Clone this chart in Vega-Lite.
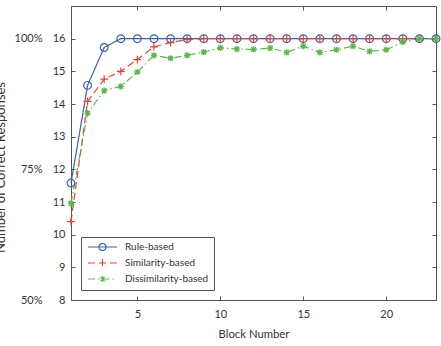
{
  "$schema": "https://vega.github.io/schema/vega-lite/v6.json",
  "width": 365,
  "height": 294,
  "autosize": {"type": "none"},
  "padding": {"left": 71, "top": 6, "right": 5, "bottom": 46},
  "config": {
    "font": "Lato",
    "view": {"stroke": null},
    "axis": {
      "grid": false,
      "domainColor": "#555555",
      "domainWidth": 1,
      "tickColor": "#555555",
      "tickSize": -4,
      "labelColor": "#333333",
      "labelFont": "Lato",
      "labelFontSize": 11,
      "titleFont": "Lato",
      "titleFontSize": 11.3,
      "titleFontWeight": "normal",
      "titleColor": "#333333"
    }
  },
  "data": {
    "values": [
      {"block": 1, "model": "Rule-based", "correct": 11.58},
      {"block": 2, "model": "Rule-based", "correct": 14.57},
      {"block": 3, "model": "Rule-based", "correct": 15.73},
      {"block": 4, "model": "Rule-based", "correct": 16},
      {"block": 5, "model": "Rule-based", "correct": 16},
      {"block": 6, "model": "Rule-based", "correct": 16},
      {"block": 7, "model": "Rule-based", "correct": 16},
      {"block": 8, "model": "Rule-based", "correct": 16},
      {"block": 9, "model": "Rule-based", "correct": 16},
      {"block": 10, "model": "Rule-based", "correct": 16},
      {"block": 11, "model": "Rule-based", "correct": 16},
      {"block": 12, "model": "Rule-based", "correct": 16},
      {"block": 13, "model": "Rule-based", "correct": 16},
      {"block": 14, "model": "Rule-based", "correct": 16},
      {"block": 15, "model": "Rule-based", "correct": 16},
      {"block": 16, "model": "Rule-based", "correct": 16},
      {"block": 17, "model": "Rule-based", "correct": 16},
      {"block": 18, "model": "Rule-based", "correct": 16},
      {"block": 19, "model": "Rule-based", "correct": 16},
      {"block": 20, "model": "Rule-based", "correct": 16},
      {"block": 21, "model": "Rule-based", "correct": 16},
      {"block": 22, "model": "Rule-based", "correct": 16},
      {"block": 23, "model": "Rule-based", "correct": 16},
      {"block": 1, "model": "Similarity-based", "correct": 10.4},
      {"block": 2, "model": "Similarity-based", "correct": 14.08},
      {"block": 3, "model": "Similarity-based", "correct": 14.76},
      {"block": 4, "model": "Similarity-based", "correct": 15.0},
      {"block": 5, "model": "Similarity-based", "correct": 15.36},
      {"block": 6, "model": "Similarity-based", "correct": 15.75},
      {"block": 7, "model": "Similarity-based", "correct": 15.88},
      {"block": 8, "model": "Similarity-based", "correct": 15.97},
      {"block": 9, "model": "Similarity-based", "correct": 16},
      {"block": 10, "model": "Similarity-based", "correct": 16},
      {"block": 11, "model": "Similarity-based", "correct": 16},
      {"block": 12, "model": "Similarity-based", "correct": 16},
      {"block": 13, "model": "Similarity-based", "correct": 16},
      {"block": 14, "model": "Similarity-based", "correct": 16},
      {"block": 15, "model": "Similarity-based", "correct": 16},
      {"block": 16, "model": "Similarity-based", "correct": 16},
      {"block": 17, "model": "Similarity-based", "correct": 16},
      {"block": 18, "model": "Similarity-based", "correct": 16},
      {"block": 19, "model": "Similarity-based", "correct": 16},
      {"block": 20, "model": "Similarity-based", "correct": 16},
      {"block": 21, "model": "Similarity-based", "correct": 16},
      {"block": 22, "model": "Similarity-based", "correct": 16},
      {"block": 23, "model": "Similarity-based", "correct": 16},
      {"block": 1, "model": "Dissimilarity-based", "correct": 10.96},
      {"block": 2, "model": "Dissimilarity-based", "correct": 13.72},
      {"block": 3, "model": "Dissimilarity-based", "correct": 14.41},
      {"block": 4, "model": "Dissimilarity-based", "correct": 14.54},
      {"block": 5, "model": "Dissimilarity-based", "correct": 14.98},
      {"block": 6, "model": "Dissimilarity-based", "correct": 15.49},
      {"block": 7, "model": "Dissimilarity-based", "correct": 15.4},
      {"block": 8, "model": "Dissimilarity-based", "correct": 15.49},
      {"block": 9, "model": "Dissimilarity-based", "correct": 15.59},
      {"block": 10, "model": "Dissimilarity-based", "correct": 15.72},
      {"block": 11, "model": "Dissimilarity-based", "correct": 15.68},
      {"block": 12, "model": "Dissimilarity-based", "correct": 15.67},
      {"block": 13, "model": "Dissimilarity-based", "correct": 15.71},
      {"block": 14, "model": "Dissimilarity-based", "correct": 15.58},
      {"block": 15, "model": "Dissimilarity-based", "correct": 15.77},
      {"block": 16, "model": "Dissimilarity-based", "correct": 15.58},
      {"block": 17, "model": "Dissimilarity-based", "correct": 15.66},
      {"block": 18, "model": "Dissimilarity-based", "correct": 15.77},
      {"block": 19, "model": "Dissimilarity-based", "correct": 15.61},
      {"block": 20, "model": "Dissimilarity-based", "correct": 15.66},
      {"block": 21, "model": "Dissimilarity-based", "correct": 15.9},
      {"block": 22, "model": "Dissimilarity-based", "correct": 16},
      {"block": 23, "model": "Dissimilarity-based", "correct": 16}
    ]
  },
  "layer": [
    {
      "mark": {"type": "line", "strokeWidth": 1.2},
      "encoding": {
        "x": {
          "field": "block",
          "type": "quantitative",
          "scale": {"domain": [1, 23], "nice": false, "zero": false},
          "axis": {"orient": "bottom", "values": [5, 10, 15, 20], "title": "Block Number", "labelPadding": 12, "titlePadding": 9}
        },
        "y": {
          "field": "correct",
          "type": "quantitative",
          "scale": {"domain": [8, 17], "nice": false, "zero": false},
          "axis": {
            "orient": "left",
            "values": [8, 9, 10, 11, 12, 13, 14, 15, 16],
            "title": "Number of Correct Responses",
            "titleFontSize": 13,
            "labelPadding": 10,
            "titleX": -64,
            "titleY": 161
          }
        },
        "color": {
          "field": "model",
          "type": "nominal",
          "scale": {
            "domain": ["Rule-based", "Similarity-based", "Dissimilarity-based"],
            "range": ["#3a5fae", "#e8432e", "#5db947"]
          },
          "legend": {
            "title": null,
            "orient": "bottom-left",
            "offset": 10,
            "padding": 5,
            "fillColor": "white",
            "strokeColor": "#555555",
            "symbolSize": 36,
            "symbolStrokeWidth": 1.2,
            "symbolFillColor": "transparent",
            "labelFont": "Lato",
            "labelFontSize": 10,
            "labelColor": "#333333",
            "labelOffset": 29,
            "rowPadding": 3,
            "encode": {
              "symbols": {
                "update": {
                  "shape": {
                    "signal": "datum.value === 'Rule-based' ? 'M-1,0H8.67M5,0A1.17,1.17 0 1,0 2.66,0A1.17,1.17 0 1,0 5,0' : datum.value === 'Similarity-based' ? 'M-1,0H8.67M3.83,-1.33V1.33' : 'M-1,0H8.67M3.83,-1V1M3.13,-0.7L4.53,0.7M3.13,0.7L4.53,-0.7'"
                  }
                }
              }
            }
          }
        },
        "strokeDash": {
          "field": "model",
          "type": "nominal",
          "scale": {
            "domain": ["Rule-based", "Similarity-based", "Dissimilarity-based"],
            "range": [[1, 0], [7, 4], [7, 3, 1.5, 3]]
          }
        }
      }
    },
    {
      "transform": [{"filter": "datum.model === 'Rule-based'"}],
      "mark": {"type": "point", "filled": false, "size": 60, "strokeWidth": 1.2, "opacity": 1, "shape": "circle", "color": "#3a5fae"},
      "encoding": {
        "x": {
          "field": "block",
          "type": "quantitative",
          "axis": {"orient": "top", "values": [5, 10, 15, 20], "labels": false, "title": null}
        },
        "y": {
          "field": "correct",
          "type": "quantitative",
          "axis": {"orient": "right", "values": [8, 9, 10, 11, 12, 13, 14, 15, 16], "labels": false, "title": null}
        }
      }
    },
    {
      "transform": [{"filter": "datum.model === 'Similarity-based'"}],
      "mark": {"type": "point", "filled": false, "size": 60, "strokeWidth": 1.2, "opacity": 1, "shape": "M-1,0H1M0,-1V1", "color": "#e8432e"},
      "encoding": {
        "x": {"field": "block", "type": "quantitative", "axis": null},
        "y": {"field": "correct", "type": "quantitative", "axis": null}
      }
    },
    {
      "transform": [{"filter": "datum.model === 'Dissimilarity-based'"}],
      "mark": {"type": "point", "filled": false, "size": 60, "strokeWidth": 1.4, "opacity": 1, "shape": "M-0.8,0H0.8M0,-0.8V0.8M-0.6,-0.6L0.6,0.6M-0.6,0.6L0.6,-0.6", "color": "#5db947"},
      "encoding": {
        "x": {"field": "block", "type": "quantitative", "axis": null},
        "y": {"field": "correct", "type": "quantitative", "axis": null}
      }
    },
    {
      "mark": {"type": "point", "opacity": 0},
      "encoding": {
        "x": {"field": "block", "type": "quantitative", "axis": null},
        "y": {
          "field": "correct",
          "type": "quantitative",
          "axis": {
            "orient": "left",
            "values": [8, 12, 16],
            "labelExpr": "datum.value === 16 ? '100%' : datum.value === 12 ? '75%' : '50%'",
            "domain": false,
            "ticks": false,
            "offset": 29,
            "labelPadding": 0,
            "title": null
          }
        }
      }
    }
  ],
  "resolve": {"axis": {"x": "independent", "y": "independent"}}
}
